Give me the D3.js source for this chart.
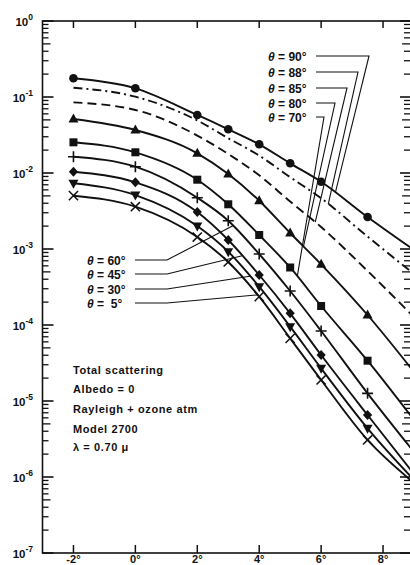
<!DOCTYPE html>
<html><head><meta charset="utf-8">
<script src="https://cdn.jsdelivr.net/npm/d3@7"></script>
<style>
html,body{margin:0;padding:0;background:#fff;}
svg{display:block;}
text{font-family:"Liberation Sans",Arial,sans-serif;fill:#111;}
</style></head>
<body>
<svg id="chart" width="410" height="565"></svg>
<script>
// ---- data ----
const angles = [-2, 0, 2, 3, 4, 5, 6, 7.5, 9];       // degrees (last point = continuation to frame)
const markerCount = 8;                                 // markers drawn on first 8 points
const theta90 = [0.1762, 0.1302, 0.0580, 0.0376, 0.02385, 0.01341, 0.00768, 0.002637, 0.00097];
const theta88 = [0.1325, 0.1009, 0.0491, 0.0287, 0.01694, 0.00881, 0.00466, 0.001456, 0.000469];
const theta85 = [0.0851, 0.0675, 0.0311, 0.01778, 0.00933, 0.00421, 0.001947, 0.000514, 0.000127];
const theta80 = [0.05134, 0.03679, 0.01816, 0.00970, 0.00432, 0.001624, 0.000629, 0.0001354, 0.00002407];
const theta70 = [0.02534, 0.01873, 0.00816, 0.003876, 0.001528, 0.000571, 0.0001778, 0.0000339, 0.00000562];
const theta60 = [0.01639, 0.01210, 0.00473, 0.002357, 0.000859, 0.000280, 0.0000834, 0.0000126, 0.00000213];
const theta45 = [0.01040, 0.00754, 0.003068, 0.001313, 0.000455, 0.0001425, 0.0000403, 0.00000654, 0.000001095];
const theta30 = [0.00732, 0.00513, 0.002007, 0.000922, 0.000319, 0.0000950, 0.0000269, 0.00000437, 0.000000913];
const theta5  = [0.00503, 0.00360, 0.001438, 0.000675, 0.000236, 0.0000668, 0.0000189, 0.00000307, 0.000000834];

const xTicks = [-2, 0, 2, 4, 6, 8];
const xTickLabels = ["-2°", "0°", "2°", "4°", "6°", "8°"];
const yDecades = [0, -1, -2, -3, -4, -5, -6, -7];

const rightLabels = ["θ = 90°", "θ = 88°", "θ = 85°", "θ = 80°", "θ = 70°"];
const rightTargets = [6.46, 6.23, 5.81, 5.43, 5.23];   // degree where leader meets curve
const leftLabels = ["θ = 60°", "θ = 45°", "θ = 30°", "θ =  5°"];
const leftTargets = [3.15, 3.45, 3.7, 3.95];
const infoLines = ["Total scattering", "Albedo = 0", "Rayleigh + ozone atm", "Model 2700", "λ = 0.70 μ"];

// ---- setup ----
const svg = d3.select("#chart");
const L = 42.5, R = 414, T = 21, B = 553;
const x = d3.scaleLinear().domain([-3, 9]).range([L, R]);
const y = d3.scaleLog().domain([1e-7, 1]).range([B, T]);
const ink = "#111";

const series = [
  {v: theta90, m: "circle", dash: null},
  {v: theta88, m: null, dash: "9,4,2,4"},
  {v: theta85, m: null, dash: "9,5"},
  {v: theta80, m: "tri", dash: null},
  {v: theta70, m: "square", dash: null},
  {v: theta60, m: "plus", dash: null},
  {v: theta45, m: "diamond", dash: null},
  {v: theta30, m: "tridown", dash: null},
  {v: theta5,  m: "x", dash: null}
];

// clip
svg.append("clipPath").attr("id","clip").append("rect")
  .attr("x", L).attr("y", T).attr("width", R - L).attr("height", B - T);

// frame
svg.append("rect").attr("x", L).attr("y", T).attr("width", R - L).attr("height", B - T)
  .attr("fill","none").attr("stroke", ink).attr("stroke-width", 1.6);

// y ticks (log) on left and right, inward
const minorTicks = [];
for (let d = -7; d < 0; d++) for (let k = 2; k <= 9; k++) minorTicks.push(k * Math.pow(10, d));
const gt = svg.append("g").attr("stroke", ink);
minorTicks.forEach(v => {
  const len = (Math.round(v / Math.pow(10, Math.floor(Math.log10(v)))) === 5) ? 8 : 6;
  gt.append("line").attr("x1", L).attr("x2", L + len).attr("y1", y(v)).attr("y2", y(v)).attr("stroke-width", 1.3);
  gt.append("line").attr("x1", R).attr("x2", R - len - 4).attr("y1", y(v)).attr("y2", y(v)).attr("stroke-width", 1.3);
});
yDecades.forEach(d => {
  const v = Math.pow(10, d);
  gt.append("line").attr("x1", L).attr("x2", L + 11).attr("y1", y(v)).attr("y2", y(v)).attr("stroke-width", 1.6);
  gt.append("line").attr("x1", R).attr("x2", R - 14).attr("y1", y(v)).attr("y2", y(v)).attr("stroke-width", 1.6);
});
// x ticks top and bottom, inward
xTicks.forEach(t => {
  gt.append("line").attr("x1", x(t)).attr("x2", x(t)).attr("y1", T).attr("y2", T + 7).attr("stroke-width", 1.5);
  gt.append("line").attr("x1", x(t)).attr("x2", x(t)).attr("y1", B).attr("y2", B - 8).attr("stroke-width", 1.5);
});

// y labels 10^n
yDecades.forEach(d => {
  const t = svg.append("text").attr("x", 33).attr("y", y(Math.pow(10, d)) + 5)
    .attr("text-anchor", "end").attr("font-size", 11.5).attr("font-weight", "bold");
  t.append("tspan").text("10");
  t.append("tspan").attr("dy", -6).attr("font-size", 8.5).text(String(d));
});
// x labels
xTicks.forEach((t, i) => {
  svg.append("text").attr("x", x(t)).attr("y", 562.5).attr("text-anchor", "middle")
    .attr("font-size", 11).attr("font-weight", "bold").text(xTickLabels[i]);
});

// curves
const line = d3.line().x(d => x(d[0])).y(d => y(d[1])).curve(d3.curveMonotoneX);
const plot = svg.append("g").attr("clip-path", "url(#clip)");
series.forEach(s => {
  const pts = angles.map((a, i) => [a, s.v[i]]);
  plot.append("path").attr("d", line(pts)).attr("fill", "none").attr("stroke", ink)
    .attr("stroke-width", 1.9).attr("stroke-dasharray", s.dash);
});

// markers
function drawMarker(g, type, cx, cy) {
  const s = 4.6;
  if (type === "circle") g.append("circle").attr("cx", cx).attr("cy", cy).attr("r", 4.3).attr("fill", ink);
  else if (type === "square") g.append("rect").attr("x", cx - 4).attr("y", cy - 4).attr("width", 8).attr("height", 8).attr("fill", ink);
  else if (type === "tri") g.append("path").attr("d", `M${cx},${cy - 5.5}L${cx + 5},${cy + 3.5}L${cx - 5},${cy + 3.5}Z`).attr("fill", ink);
  else if (type === "tridown") g.append("path").attr("d", `M${cx},${cy + 5.5}L${cx + 5},${cy - 3.5}L${cx - 5},${cy - 3.5}Z`).attr("fill", ink);
  else if (type === "diamond") g.append("path").attr("d", `M${cx},${cy - 5}L${cx + 4.6},${cy}L${cx},${cy + 5}L${cx - 4.6},${cy}Z`).attr("fill", ink);
  else if (type === "plus") g.append("path").attr("d", `M${cx - 5.5},${cy}H${cx + 5.5}M${cx},${cy - 5.5}V${cy + 5.5}`).attr("stroke", ink).attr("stroke-width", 1.6);
  else if (type === "x") g.append("path").attr("d", `M${cx - s},${cy - s}L${cx + s},${cy + s}M${cx - s},${cy + s}L${cx + s},${cy - s}`).attr("stroke", ink).attr("stroke-width", 1.5);
}
const mg = svg.append("g");
series.forEach(s => {
  if (!s.m) return;
  for (let i = 0; i < markerCount; i++) drawMarker(mg, s.m, x(angles[i]), y(s.v[i]));
});

// interpolate curve (log-linear) for leader targets
function curveAt(vals, a) {
  for (let i = 0; i < angles.length - 1; i++) {
    if (a >= angles[i] && a <= angles[i + 1]) {
      const f = (a - angles[i]) / (angles[i + 1] - angles[i]);
      return Math.pow(10, Math.log10(vals[i]) * (1 - f) + Math.log10(vals[i + 1]) * f);
    }
  }
  return vals[vals.length - 1];
}

// right labels
const rY = [56, 72, 88, 103, 117];
const rHx = [369, 358, 347, 335, 324];
const rSeries = [theta90, theta88, theta85, theta80, theta70];
rightLabels.forEach((lab, i) => {
  const t = svg.append("text").attr("x", 268).attr("y", rY[i] + 4.5).attr("font-size", 12).attr("font-weight", "bold");
  t.append("tspan").attr("font-style", "italic").text("θ");
  t.append("tspan").text(lab.slice(1));
  const tx = x(rightTargets[i]), ty = y(curveAt(rSeries[i], rightTargets[i]));
  svg.append("path").attr("d", `M316,${rY[i]}H${rHx[i]}L${tx},${ty}`)
    .attr("fill", "none").attr("stroke", ink).attr("stroke-width", 1.1);
});

// left labels
const lY = [260, 274, 289, 303];
const lSeries = [theta60, theta45, theta30, theta5];
leftLabels.forEach((lab, i) => {
  const t = svg.append("text").attr("x", 87).attr("y", lY[i] + 4.5).attr("font-size", 12).attr("font-weight", "bold")
    .attr("xml:space", "preserve");
  t.append("tspan").attr("font-style", "italic").text("θ");
  t.append("tspan").text(lab.slice(1));
  const tx = x(leftTargets[i]), ty = y(curveAt(lSeries[i], leftTargets[i]));
  svg.append("path").attr("d", `M135,${lY[i]}H167L${tx},${ty}`)
    .attr("fill", "none").attr("stroke", ink).attr("stroke-width", 1.1);
});

// info text
const infoY = [370, 389, 409, 429, 447];
infoLines.forEach((s, i) => {
  svg.append("text").attr("x", 73).attr("y", infoY[i] + 4).attr("font-size", 11).attr("font-weight", "bold")
    .attr("letter-spacing", 0.6).attr("xml:space", "preserve").text(s);
});
</script>
</body></html>
